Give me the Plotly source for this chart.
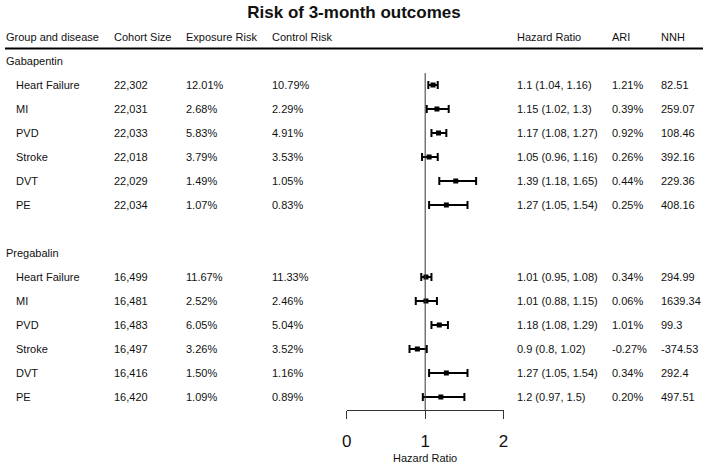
import plotly.graph_objects as go

# ---------------- data ----------------
groups = ["Gabapentin", "Pregabalin"]
diseases = ["Heart Failure", "MI", "PVD", "Stroke", "DVT", "PE"]
headers = ["Group and disease", "Cohort Size", "Exposure Risk", "Control Risk",
           "Hazard Ratio", "ARI", "NNH"]

cohort_gaba = [22302, 22031, 22033, 22018, 22029, 22034]
cohort_preg = [16499, 16481, 16483, 16497, 16416, 16420]
exp_gaba = [12.01, 2.68, 5.83, 3.79, 1.49, 1.07]
exp_preg = [11.67, 2.52, 6.05, 3.26, 1.50, 1.09]
ctl_gaba = [10.79, 2.29, 4.91, 3.53, 1.05, 0.83]
ctl_preg = [11.33, 2.46, 5.04, 3.52, 1.16, 0.89]
hr_gaba = [1.1, 1.15, 1.17, 1.05, 1.39, 1.27]
hr_preg = [1.01, 1.01, 1.18, 0.9, 1.27, 1.2]
lo_gaba = [1.04, 1.02, 1.08, 0.96, 1.18, 1.05]
lo_preg = [0.95, 0.88, 1.08, 0.8, 1.05, 0.97]
hi_gaba = [1.16, 1.3, 1.27, 1.16, 1.65, 1.54]
hi_preg = [1.08, 1.15, 1.29, 1.02, 1.54, 1.5]
ari_gaba = [1.21, 0.39, 0.92, 0.26, 0.44, 0.25]
ari_preg = [0.34, 0.06, 1.01, -0.27, 0.34, 0.20]
nnh_gaba = [82.51, 259.07, 108.46, 392.16, 229.36, 408.16]
nnh_preg = [294.99, 1639.34, 99.3, -374.53, 292.4, 497.51]
axis_ticks = [0, 1, 2]

# ---------------- layout constants ----------------
W, H = 708, 464
FONT = "Liberation Sans, Arial, sans-serif"
TXT = "#111111"
ROW0 = 37      # pixel centre of header row
STEP = 24      # row spacing in px
AXIS_Y = 410   # pixel of the x axis line
col_px = [1.5, 111, 184, 271, 519, 616, 665]
indent_px = 11
x0_px, x2_px = 346.7, 505.7

ymin = -ROW0 / STEP
ymax = (AXIS_Y - ROW0) / STEP

fig = go.Figure()
ann = []


def add_text(xpx, row, text, size=11):
    ann.append(dict(x=(xpx - 1) / W, xref="paper", y=row, yref="y", text=text,
                    showarrow=False, xanchor="left", yanchor="middle", borderpad=0,
                    font=dict(family=FONT, size=size, color=TXT)))


for c, h in zip(col_px, headers):
    add_text(c, 0, h)

group_data = [
    (cohort_gaba, exp_gaba, ctl_gaba, hr_gaba, lo_gaba, hi_gaba, ari_gaba, nnh_gaba),
    (cohort_preg, exp_preg, ctl_preg, hr_preg, lo_preg, hi_preg, ari_preg, nnh_preg),
]

row = 1
for g, (coh, ex, ct, hr, lo, hi, ari, nnh) in zip(groups, group_data):
    add_text(col_px[0], row, g)
    rows = []
    for i, d in enumerate(diseases):
        r = row + 1 + i
        rows.append(r)
        add_text(indent_px, r, d)
        add_text(col_px[1], r, f"{coh[i]:,}")
        add_text(col_px[2], r, f"{ex[i]:.2f}%")
        add_text(col_px[3], r, f"{ct[i]:.2f}%")
        add_text(col_px[4], r, f"{hr[i]} ({lo[i]}, {hi[i]})")
        add_text(col_px[5], r, f"{ari[i]:.2f}%")
        add_text(col_px[6], r, f"{nnh[i]}")
    fig.add_trace(go.Scatter(
        x=hr, y=rows, mode="markers",
        marker=dict(symbol="square", size=5, color="black"),
        error_x=dict(type="data", symmetric=False,
                     array=[h - v for h, v in zip(hi, hr)],
                     arrayminus=[v - l for v, l in zip(hr, lo)],
                     color="black", thickness=2, width=4),
        showlegend=False, hoverinfo="skip"))
    row += len(diseases) + 2

# axis title
ann.append(dict(x=1, xref="x", y=1 - 458 / H, yref="paper", text="Hazard Ratio",
                showarrow=False, xanchor="center", yanchor="middle",
                font=dict(family=FONT, size=11, color=TXT)))

shapes = [
    # header rule
    dict(type="line", xref="paper", yref="paper", x0=0, x1=1,
         y0=1 - 48.5 / H, y1=1 - 48.5 / H, line=dict(color="black", width=2)),
    # reference line at HR = 1
    dict(type="line", xref="x", yref="y", x0=1, x1=1, y0=1.5, y1=ymax,
         line=dict(color="#333333", width=1)),
]

fig.update_layout(
    width=W, height=H, margin=dict(l=0, r=0, t=0, b=0),
    paper_bgcolor="white", plot_bgcolor="white",
    title=dict(text="<b>Risk of 3-month outcomes</b>", x=354 / W, xanchor="center",
               y=1 - 12 / H, yanchor="middle", yref="container",
               font=dict(family=FONT, size=17, color=TXT)),
    xaxis=dict(domain=[x0_px / W, x2_px / W], range=[0, 2], tickvals=axis_ticks,
               ticktext=[str(t) for t in axis_ticks],
               showline=True, linecolor="#333333", linewidth=1,
               ticks="outside", ticklen=8, tickcolor="#333333", tickwidth=1,
               showgrid=False, zeroline=False, ticklabelstandoff=8,
               tickfont=dict(family=FONT, size=17, color=TXT), fixedrange=True),
    yaxis=dict(domain=[1 - AXIS_Y / H, 1], range=[ymax, ymin], visible=False,
               showgrid=False, zeroline=False, fixedrange=True),
    annotations=ann, shapes=shapes,
)

fig.write_html("out.html", post_script="document.body.style.margin='0';",
               config={"displayModeBar": False})
